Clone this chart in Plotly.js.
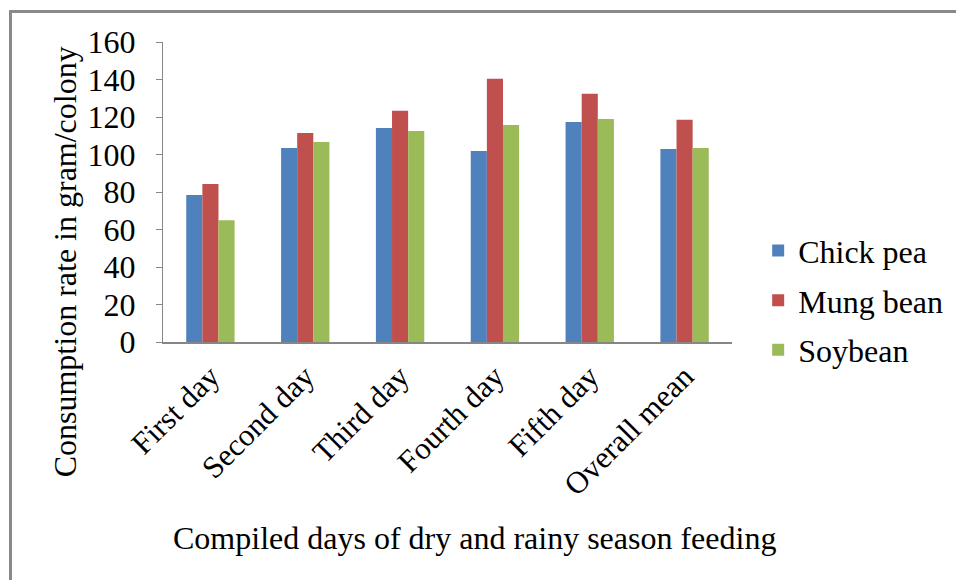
<!DOCTYPE html>
<html>
<head>
<meta charset="utf-8">
<script src="https://cdn.plot.ly/plotly-3.0.1.min.js"></script>
<style>
  html, body { margin: 0; padding: 0; background: #fff; }
  #wrap { position: relative; width: 956px; height: 580px; overflow: hidden; }
  #frame { position: absolute; left: 9px; top: 10px; width: 960px; height: 600px;
           border-left: 3px solid #898989; border-top: 3px solid #898989; box-sizing: border-box; pointer-events: none; }
  #chart { position: absolute; left: 0; top: 0; width: 956px; height: 580px; }
</style>
</head>
<body>
<div id="wrap">
  <div id="chart"></div>
  <div id="frame"></div>
</div>
<script>
const categories = ["First day", "Second day", "Third day", "Fourth day", "Fifth day", "Overall mean"];
const chickPea = [78.4, 103.5, 114.2, 101.9, 117.4, 103.0];
const mungBean = [84.3, 111.5, 123.3, 140.4, 132.4, 118.5];
const soybean  = [65.0, 106.7, 112.6, 115.8, 119.0, 103.5];
const seriesNames = ["Chick pea", "Mung bean", "Soybean"];
const yTicks = [0, 20, 40, 60, 80, 100, 120, 140, 160];

const colors = ["#4F81BD", "#C0504D", "#9BBB59"];
const font = "Liberation Serif, Times New Roman, serif";

const traces = [chickPea, mungBean, soybean].map((vals, i) => ({
  type: "bar",
  name: seriesNames[i],
  x: categories,
  y: vals,
  marker: { color: colors[i], line: { width: 0 } },
  legendgroup: "g" + i,
  hoverinfo: "x+y+name"
}));

const layout = {
  width: 956, height: 580,
  margin: { l: 163, r: 224, t: 42, b: 238, autoexpand: false },
  paper_bgcolor: "rgba(0,0,0,0)",
  plot_bgcolor: "rgba(0,0,0,0)",
  barmode: "group",
  bargap: 0.49,
  bargroupgap: 0,
  font: { family: font, color: "#000" },
  showlegend: true,
  legend: {
    x: 1.046, xanchor: "left",
    y: 0.139, yanchor: "middle",
    font: { family: font, size: 32, color: "#000" },
    tracegroupgap: 5,
    bgcolor: "rgba(0,0,0,0)"
  },
  xaxis: {
    type: "category",
    showline: true, linecolor: "#868686", linewidth: 2,
    ticks: "", tickangle: -45,
    ticklabelstandoff: 2,
    tickfont: { family: font, size: 31, color: "#000" },
    showgrid: false, zeroline: false,
    fixedrange: true
  },
  yaxis: {
    range: [0, 160],
    tickvals: yTicks,
    ticktext: yTicks.map(String),
    showline: true, linecolor: "#868686", linewidth: 1,
    ticks: "outside", ticklen: 6, tickcolor: "#868686", tickwidth: 1,
    ticklabelstandoff: 14,
    tickfont: { family: font, size: 32, color: "#000" },
    showgrid: false, zeroline: false,
    fixedrange: true
  },
  annotations: [
    {
      text: "Consumption rate in gram/colony",
      xref: "paper", yref: "paper",
      x: -0.172, y: 0.266, xanchor: "center", yanchor: "middle",
      textangle: -90, showarrow: false,
      font: { family: font, size: 32, color: "#000" }
    },
    {
      text: "Compiled days of dry and rainy season feeding",
      xref: "paper", yref: "paper",
      x: 0.548, y: -0.652, xanchor: "center", yanchor: "middle",
      showarrow: false,
      font: { family: font, size: 32, color: "#000" }
    }
  ]
};

Plotly.newPlot("chart", traces, layout, { displayModeBar: false, staticPlot: true });
</script>
</body>
</html>
